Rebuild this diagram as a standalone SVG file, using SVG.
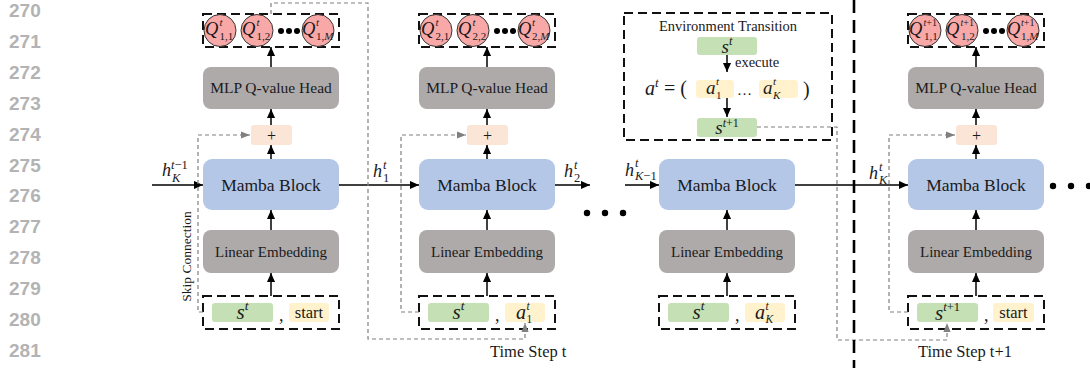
<svg xmlns="http://www.w3.org/2000/svg" width="1090" height="368" viewBox="0 0 1090 368">
<style>
.ln{font-family:"Liberation Sans",Arial,sans-serif;font-weight:bold;font-size:19px;fill:#b3b3b3}
.t{font-family:"Liberation Serif","Times New Roman",serif;fill:#1a1a1a}
.m{font-family:"Liberation Serif","Times New Roman",serif;font-style:italic;fill:#1a1a1a}
.u{font-style:normal}
.gray{fill:#aeaaaa}
.mamba{fill:#b4c7e7}
.plus{fill:#fbe5d6}
.grn{fill:#c5e0b4}
.yel{fill:#fff2cc}
.dbox{fill:none;stroke:#111;stroke-width:2;stroke-dasharray:9 5}
.q{fill:#f9a8a8;stroke:#333;stroke-width:1}
.arr{fill:none;stroke:#000;stroke-width:1.5;marker-end:url(#ah)}
.gd{fill:none;stroke:#808080;stroke-width:1.2;stroke-dasharray:4 3}
.gda{marker-end:url(#gh)}
.dot{fill:#000}
</style>
<defs>
<marker id="ah" viewBox="0 0 10 10" refX="10" refY="5" markerWidth="9" markerHeight="9" markerUnits="userSpaceOnUse" orient="auto"><path d="M0,0.5 L10,5 L0,9.5 z" fill="#000"/></marker>
<marker id="gh" viewBox="0 0 10 10" refX="10" refY="5" markerWidth="9" markerHeight="9" markerUnits="userSpaceOnUse" orient="auto"><path d="M0,1 L10,5 L0,9 z" fill="#808080"/></marker>
</defs>

<g id="line-numbers">
<text class="ln" x="9" y="17">270</text>
<text class="ln" x="9" y="48">271</text>
<text class="ln" x="9" y="79">272</text>
<text class="ln" x="9" y="110">273</text>
<text class="ln" x="9" y="141">274</text>
<text class="ln" x="9" y="172">275</text>
<text class="ln" x="9" y="202">276</text>
<text class="ln" x="9" y="233">277</text>
<text class="ln" x="9" y="264">278</text>
<text class="ln" x="9" y="295">279</text>
<text class="ln" x="9" y="326">280</text>
<text class="ln" x="9" y="357">281</text>
</g>

<!-- Column 1 -->
<g id="col1" transform="translate(203,0)">
 <g id="qvals1">
  <rect class="dbox" x="0" y="14" width="136" height="33"/>
  <circle class="q" cx="17" cy="30.5" r="16"/>
  <circle class="q" cx="54" cy="30.5" r="16"/>
  <circle class="q" cx="115" cy="30.5" r="16"/>
  <circle class="dot" cx="78" cy="31" r="3"/><circle class="dot" cx="86" cy="31" r="3"/><circle class="dot" cx="94" cy="31" r="3"/>
  <text class="m" x="2" y="35" font-size="18.5">Q<tspan x="16.5" y="26" font-size="11">t</tspan><tspan class="u" x="16.5" y="39.5" font-size="11">1,1</tspan></text>
  <text class="m" x="39" y="35" font-size="18.5">Q<tspan x="53.5" y="26" font-size="11">t</tspan><tspan class="u" x="53.5" y="39.5" font-size="11">1,2</tspan></text>
  <text class="m" x="99" y="35" font-size="18.5">Q<tspan x="113" y="26" font-size="11">t</tspan><tspan class="u" x="113" y="39.5" font-size="11">1,<tspan class="m">M</tspan></tspan></text>
 </g>
 <g id="mlp1"><rect class="gray" x="0" y="67" width="136" height="42" rx="8"/><text class="t" x="68" y="93" text-anchor="middle" font-size="15.5">MLP Q-value Head</text></g>
 <g id="plus1"><rect class="plus" x="48" y="125" width="41" height="20" rx="3"/><text class="t" x="68.5" y="140.5" text-anchor="middle" font-size="16">+</text></g>
 <g id="mamba1"><rect class="mamba" x="0" y="159" width="136" height="51" rx="9"/><text class="t" x="68" y="191" text-anchor="middle" font-size="17.5">Mamba Block</text></g>
 <g id="embed1"><rect class="gray" x="0" y="230" width="136" height="43" rx="8"/><text class="t" x="68" y="257" text-anchor="middle" font-size="15">Linear Embedding</text></g>
 <g id="input1">
  <rect class="dbox" x="0" y="296" width="136" height="33"/>
  <rect class="grn" x="9" y="303" width="61" height="19" rx="3"/>
  <text class="m" x="39.5" y="319" text-anchor="middle" font-size="21">s<tspan dy="-9" font-size="13.5">t</tspan></text>
  <text class="t" x="76" y="321" font-size="18">,</text>
  <rect class="yel" x="86" y="303" width="40" height="19" rx="3"/>
  <text class="t" x="106" y="318" text-anchor="middle" font-size="16.5">start</text>
 </g>
</g>

<!-- Column 2 -->
<g id="col2" transform="translate(419,0)">
 <g id="qvals2">
  <rect class="dbox" x="0" y="14" width="136" height="33"/>
  <circle class="q" cx="17" cy="30.5" r="16"/>
  <circle class="q" cx="54" cy="30.5" r="16"/>
  <circle class="q" cx="115" cy="30.5" r="16"/>
  <circle class="dot" cx="78" cy="31" r="3"/><circle class="dot" cx="86" cy="31" r="3"/><circle class="dot" cx="94" cy="31" r="3"/>
  <text class="m" x="2" y="35" font-size="18.5">Q<tspan x="16.5" y="26" font-size="11">t</tspan><tspan class="u" x="16.5" y="39.5" font-size="11">2,1</tspan></text>
  <text class="m" x="39" y="35" font-size="18.5">Q<tspan x="53.5" y="26" font-size="11">t</tspan><tspan class="u" x="53.5" y="39.5" font-size="11">2,2</tspan></text>
  <text class="m" x="99" y="35" font-size="18.5">Q<tspan x="113" y="26" font-size="11">t</tspan><tspan class="u" x="113" y="39.5" font-size="11">2,<tspan class="m">M</tspan></tspan></text>
 </g>
 <g id="mlp2"><rect class="gray" x="0" y="67" width="136" height="42" rx="8"/><text class="t" x="68" y="93" text-anchor="middle" font-size="15.5">MLP Q-value Head</text></g>
 <g id="plus2"><rect class="plus" x="48" y="125" width="41" height="20" rx="3"/><text class="t" x="68.5" y="140.5" text-anchor="middle" font-size="16">+</text></g>
 <g id="mamba2"><rect class="mamba" x="0" y="159" width="136" height="51" rx="9"/><text class="t" x="68" y="191" text-anchor="middle" font-size="17.5">Mamba Block</text></g>
 <g id="embed2"><rect class="gray" x="0" y="230" width="136" height="43" rx="8"/><text class="t" x="68" y="257" text-anchor="middle" font-size="15">Linear Embedding</text></g>
 <g id="input2">
  <rect class="dbox" x="0" y="296" width="136" height="33"/>
  <rect class="grn" x="9" y="303" width="61" height="19" rx="3"/>
  <text class="m" x="39.5" y="319" text-anchor="middle" font-size="21">s<tspan dy="-9" font-size="13.5">t</tspan></text>
  <text class="t" x="76" y="321" font-size="18">,</text>
  <rect class="yel" x="86" y="303" width="40" height="19" rx="3"/>
  <text class="m" x="97" y="319" font-size="20">a</text>
  <text class="m" x="107.5" y="309.5" font-size="11.5">t</text>
  <text class="t" x="107.5" y="323" font-size="11.5">1</text>
 </g>
</g>

<!-- Column 3 -->
<g id="col3" transform="translate(659,0)">
 <g id="mamba3"><rect class="mamba" x="0" y="159" width="136" height="51" rx="9"/><text class="t" x="68" y="191" text-anchor="middle" font-size="17.5">Mamba Block</text></g>
 <g id="embed3"><rect class="gray" x="0" y="230" width="136" height="43" rx="8"/><text class="t" x="68" y="257" text-anchor="middle" font-size="15">Linear Embedding</text></g>
 <g id="input3">
  <rect class="dbox" x="0" y="296" width="136" height="33"/>
  <rect class="grn" x="9" y="303" width="61" height="19" rx="3"/>
  <text class="m" x="39.5" y="319" text-anchor="middle" font-size="21">s<tspan dy="-9" font-size="13.5">t</tspan></text>
  <text class="t" x="76" y="321" font-size="18">,</text>
  <rect class="yel" x="86" y="303" width="40" height="19" rx="3"/>
  <text class="m" x="96" y="319" font-size="20">a</text>
  <text class="m" x="106.5" y="309.5" font-size="11.5">t</text>
  <text class="m" x="106.5" y="323" font-size="11.5">K</text>
 </g>
</g>

<!-- Environment transition -->
<g id="env">
 <rect class="dbox" x="624" y="13" width="208" height="127"/>
 <text class="t" x="728" y="31" text-anchor="middle" font-size="14.5">Environment Transition</text>
 <g id="env-s"><rect class="grn" x="697" y="37" width="60" height="18" rx="3"/><text class="m" x="727" y="53" text-anchor="middle" font-size="19">s<tspan dy="-8" font-size="12.5">t</tspan></text></g>
 <text class="t" x="735" y="67" font-size="14.5">execute</text>
 <text class="m" x="645" y="95" font-size="20">a<tspan dy="-8" font-size="13">t</tspan><tspan class="u" x="664" y="95">= (</tspan></text>
 <g id="env-a1">
  <rect class="yel" x="696" y="80" width="38" height="18" rx="3"/>
  <text class="m" x="706" y="94" font-size="19">a</text>
  <text class="m" x="716" y="85" font-size="11">t</text>
  <text class="t" x="716" y="98.5" font-size="11">1</text>
 </g>
 <text class="t" x="737" y="95" font-size="15">…</text>
 <g id="env-aK">
  <rect class="yel" x="759" y="80" width="39" height="18" rx="3"/>
  <text class="m" x="763" y="94" font-size="19">a</text>
  <text class="m" x="773" y="85" font-size="11">t</text>
  <text class="m" x="773" y="98.5" font-size="11">K</text>
 </g>
 <text class="t" x="803" y="96" font-size="20">)</text>
 <g id="env-s1"><rect class="grn" x="697" y="118" width="60" height="19" rx="3"/><text class="m" x="727" y="134" text-anchor="middle" font-size="19">s<tspan dy="-7" font-size="12">t<tspan class="u">+1</tspan></tspan></text></g>
</g>

<!-- Column 4 -->
<g id="col4" transform="translate(908,0)">
 <g id="qvals4">
  <rect class="dbox" x="0" y="14" width="136" height="33"/>
  <circle class="q" cx="17" cy="30.5" r="16"/>
  <circle class="q" cx="54" cy="30.5" r="16"/>
  <circle class="q" cx="115" cy="30.5" r="16"/>
  <circle class="dot" cx="78" cy="31" r="3"/><circle class="dot" cx="86" cy="31" r="3"/><circle class="dot" cx="94" cy="31" r="3"/>
  <text class="m" x="1" y="35" font-size="18.5">Q<tspan x="15.5" y="26" font-size="10">t<tspan class="u">+1</tspan></tspan><tspan class="u" x="16" y="39.5" font-size="11">1,1</tspan></text>
  <text class="m" x="38" y="35" font-size="18.5">Q<tspan x="52.5" y="26" font-size="10">t<tspan class="u">+1</tspan></tspan><tspan class="u" x="53" y="39.5" font-size="11">1,2</tspan></text>
  <text class="m" x="99" y="35" font-size="18.5">Q<tspan x="113" y="26" font-size="10">t<tspan class="u">+1</tspan></tspan><tspan class="u" x="113" y="39.5" font-size="11">1,<tspan class="m">M</tspan></tspan></text>
 </g>
 <g id="mlp4"><rect class="gray" x="0" y="67" width="136" height="42" rx="8"/><text class="t" x="68" y="93" text-anchor="middle" font-size="15.5">MLP Q-value Head</text></g>
 <g id="plus4"><rect class="plus" x="48" y="125" width="41" height="20" rx="3"/><text class="t" x="68.5" y="140.5" text-anchor="middle" font-size="16">+</text></g>
 <g id="mamba4"><rect class="mamba" x="0" y="159" width="136" height="51" rx="9"/><text class="t" x="68" y="191" text-anchor="middle" font-size="17.5">Mamba Block</text></g>
 <g id="embed4"><rect class="gray" x="0" y="230" width="136" height="43" rx="8"/><text class="t" x="68" y="257" text-anchor="middle" font-size="15">Linear Embedding</text></g>
 <g id="input4">
  <rect class="dbox" x="0" y="296" width="136" height="33"/>
  <rect class="grn" x="9" y="303" width="61" height="19" rx="3"/>
  <text class="m" x="39.5" y="320" text-anchor="middle" font-size="21">s<tspan dy="-9" font-size="12.5">t<tspan class="u">+1</tspan></tspan></text>
  <text class="t" x="76" y="321" font-size="18">,</text>
  <rect class="yel" x="85" y="303" width="41" height="19" rx="3"/>
  <text class="t" x="105.5" y="318" text-anchor="middle" font-size="16.5">start</text>
 </g>
</g>

<g id="connectors">
 <path class="arr" d="M271,296 V273"/><path class="arr" d="M271,230 V210"/><path class="arr" d="M271,159 V145"/><path class="arr" d="M271,125 V109"/><path class="arr" d="M271,67 V47"/>
 <path class="arr" d="M487,296 V273"/><path class="arr" d="M487,230 V210"/><path class="arr" d="M487,159 V145"/><path class="arr" d="M487,125 V109"/><path class="arr" d="M487,67 V47"/>
 <path class="arr" d="M727,296 V273"/><path class="arr" d="M727,230 V210"/>
 <path class="arr" d="M976,296 V273"/><path class="arr" d="M976,230 V210"/><path class="arr" d="M976,159 V145"/><path class="arr" d="M976,125 V109"/><path class="arr" d="M976,67 V47"/>
 <path class="arr" d="M727,55 V72"/><path class="arr" d="M727,98 V117"/>
 <path class="arr" d="M152,185 H203"/>
 <path class="arr" d="M339,185 H419"/>
 <path class="arr" d="M555,185 H590"/>
 <path class="arr" d="M625,185 H659"/>
 <path class="arr" d="M795,185 H908"/>
 <path class="gd gda" d="M203,312 H198 V135 H250"/>
 <path class="gd gda" d="M419,312 H401 V135 H466"/>
 <path class="gd gda" d="M908,312 H889 V135 H955"/>
 <path class="gd gda" d="M271,14 V3 H368 V339 H525 V323"/>
 <path class="gd gda" d="M757,127 H837 V340 H947 V323"/>
</g>

<g id="labels">
 <text class="m" x="162" y="176" font-size="18">h<tspan x="171" y="169" font-size="12.5">t<tspan class="u">−1</tspan></tspan><tspan x="172" y="182" font-size="12.5">K</tspan></text>
 <text class="m" x="373" y="177" font-size="18">h<tspan x="383" y="169" font-size="12.5">t</tspan><tspan class="u" x="383" y="182" font-size="12.5">1</tspan></text>
 <text class="m" x="564" y="177" font-size="18">h<tspan x="574" y="169" font-size="12.5">t</tspan><tspan class="u" x="574" y="182" font-size="12.5">2</tspan></text>
 <text class="m" x="625" y="176" font-size="18">h<tspan x="635" y="167" font-size="12.5">t</tspan><tspan x="635" y="180" font-size="12.5">K<tspan class="u">−1</tspan></tspan></text>
 <text class="m" x="869" y="179" font-size="18">h<tspan x="879" y="171" font-size="12.5">t</tspan><tspan x="879" y="184" font-size="12.5">K</tspan></text>
 <text class="t" transform="translate(190.5,256.5) rotate(-90)" text-anchor="middle" font-size="13.5">Skip Connection</text>
 <text class="t" x="490" y="357" font-size="16.5">Time Step t</text>
 <text class="t" x="918" y="357" font-size="16.5">Time Step t+1</text>
</g>

<g id="ellipses">
 <circle class="dot" cx="587" cy="213" r="3.2"/><circle class="dot" cx="605" cy="213" r="3.2"/><circle class="dot" cx="623" cy="213" r="3.2"/>
 <circle class="dot" cx="1053" cy="186" r="3.2"/><circle class="dot" cx="1071" cy="186" r="3.2"/><circle class="dot" cx="1089" cy="186" r="3.2"/>
</g>

<g id="separator">
 <line x1="854" y1="0" x2="854" y2="368" stroke="#000" stroke-width="2.6" stroke-dasharray="13 7"/>
</g>
</svg>
